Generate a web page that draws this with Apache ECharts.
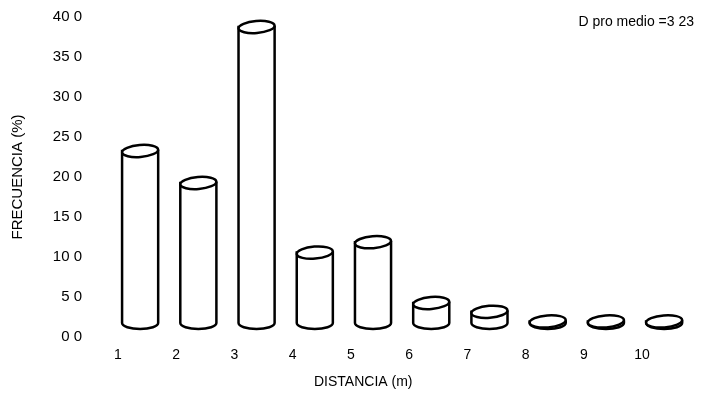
<!DOCTYPE html>
<html>
<head>
<meta charset="utf-8">
<script src="https://cdn.jsdelivr.net/npm/echarts@6/dist/echarts.min.js"></script>
<style>
  html, body { margin: 0; padding: 0; background: #fff; }
  #chart { width: 701px; height: 396px; }
</style>
</head>
<body>
<div id="chart"></div>
<script>
// Distance classes (m) and frequency per class (%)
const categories = ['1', '2', '3', '4', '5', '6', '7', '8', '9', '10'];
const frecuencia = [21.5, 17.5, 37.0, 8.8, 10.1, 2.5, 1.4, 0.2, 0.2, 0.2];
const yTickLabels = ['0 0', '5 0', '10 0', '15 0', '20 0', '25 0', '30 0', '35 0', '40 0'];

const FONT = '"Liberation Sans", Arial, sans-serif';
const chart = echarts.init(document.getElementById('chart'), null, { renderer: 'canvas' });

// Cylinder drawn from the axis coordinates, pushed back/up by a depth offset
function renderCylinder(params, api) {
  const i = api.value(0);
  const base = api.coord([i, 0]);
  const top = api.coord([i, api.value(1)]);
  const band = api.size([1, 0])[0];
  const dx = band * 0.38, dy = -14;
  const cx = base[0] + dx;
  const by = base[1] + dy;
  const ty = top[1] + dy;
  const rx = band * 0.31, ry = 6;
  const style = { fill: '#fff', stroke: '#000', lineWidth: 2.5 };
  const body = 'M' + (cx - rx) + ',' + ty + ' L' + (cx - rx) + ',' + by +
    ' A' + rx + ' ' + ry + ' 0 0 0 ' + (cx + rx) + ',' + by +
    ' L' + (cx + rx) + ',' + ty + ' Z';
  return {
    type: 'group',
    children: [
      { type: 'path', shape: { pathData: body }, style: style },
      {
        type: 'ellipse',
        shape: { cx: cx, cy: ty, rx: rx, ry: ry },
        rotation: 0.08, originX: cx, originY: ty,
        style: style
      }
    ]
  };
}

chart.setOption({
  backgroundColor: '#fff',
  animation: false,
  title: {
    text: 'D pro medio =3 23',
    right: 2, top: 10,
    textStyle: { fontFamily: FONT, fontSize: 14, fontWeight: 'normal', color: '#000' }
  },
  grid: { left: 118, right: 59, top: 17, bottom: 59 },
  xAxis: {
    type: 'category',
    data: categories,
    boundaryGap: false,
    axisLine: { show: false },
    axisTick: { show: false },
    axisLabel: { margin: 11, fontFamily: FONT, fontSize: 14, color: '#000' }
  },
  yAxis: {
    type: 'value',
    min: 0, max: 40, interval: 5,
    name: 'FRECUENCIA (%)',
    nameLocation: 'middle',
    nameRotate: 90,
    nameGap: 93,
    nameTextStyle: { fontFamily: FONT, fontSize: 15, color: '#000' },
    axisLine: { show: false },
    axisTick: { show: false },
    splitLine: { show: false },
    axisLabel: {
      margin: 36, fontFamily: FONT, fontSize: 15, color: '#000',
      formatter: function (v) { return yTickLabels[Math.round(v / 5)]; }
    }
  },
  graphic: [
    {
      type: 'text', left: 314, top: 375,
      style: { text: 'DISTANCIA (m)', fontFamily: FONT, fontSize: 14, fill: '#000' }
    }
  ],
  series: [{
    type: 'custom',
    renderItem: renderCylinder,
    encode: { x: 0, y: 1 },
    data: frecuencia.map(function (v, i) { return [i, v]; })
  }]
});
</script>
</body>
</html>
